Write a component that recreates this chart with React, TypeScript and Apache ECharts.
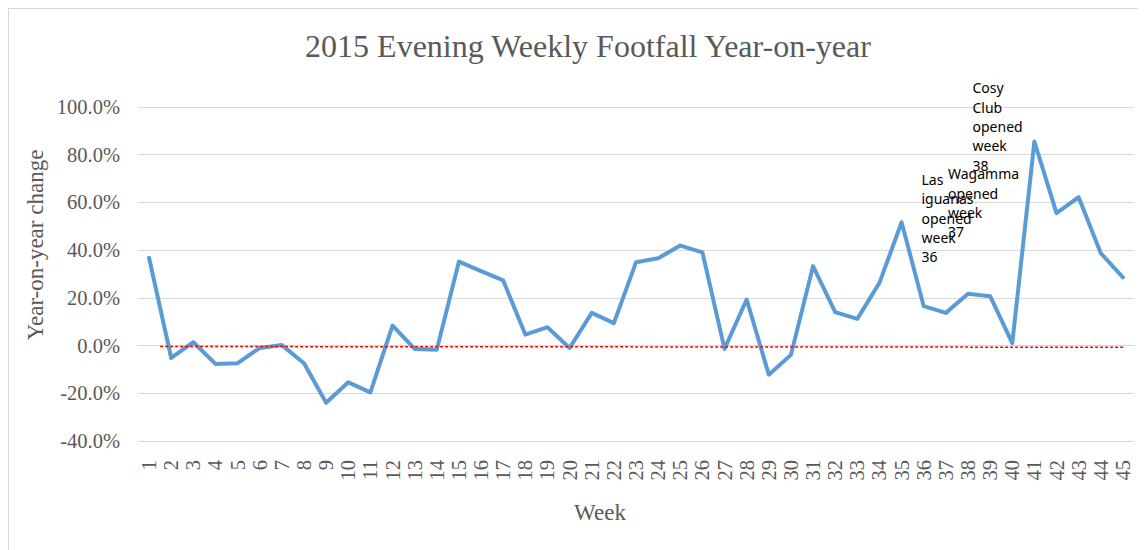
import React, { useEffect, useRef } from "react";
import * as echarts from "echarts";

const weeks: string[] = Array.from({ length: 45 }, (_, i) => String(i + 1));
const yoyChange: number[] = [
  36.8, -5.2, 1.4, -7.7, -7.4, -1.0, 0.2, -7.4, -24.0, -15.4,
  -19.6, 8.4, -1.4, -1.7, 35.2, 31.2, 27.3, 4.6, 7.7, -1.0,
  13.7, 9.4, 34.9, 36.6, 41.9, 39.1, -1.4, 19.3, -12.2, -3.9,
  33.3, 14.0, 11.2, 26.3, 51.7, 16.5, 13.7, 21.7, 20.7, 1.0,
  85.5, 55.5, 62.2, 38.7, 28.6,
];
const trendWeeks: number[] = [1.5, 45.1];
const trendValues: number[] = [-0.4, -0.7];
const yMin = -40;
const yMax = 100;
const yStep = 20;

const annotations = [
  { text: "Las\niguanas\nopened\nweek\n36", x: 912.5, y: 160.5 },
  { text: "Wagamma\nopened\nweek\n37", x: 939, y: 155 },
  { text: "Cosy\nClub\nopened\nweek\n38", x: 963.5, y: 69 },
];

const SERIF = "'Liberation Serif', 'Times New Roman', serif";
const GREY = "#595959";

export default function App() {
  const ref = useRef<HTMLDivElement>(null);
  useEffect(() => {
    if (!ref.current) return;
    const chart = echarts.init(ref.current, undefined, { renderer: "svg" });
    chart.setOption({
      animation: false,
      backgroundColor: "#ffffff",
      title: {
        text: "2015 Evening Weekly Footfall Year-on-year",
        left: 574,
        top: 16,
        textAlign: "center",
        textStyle: { fontFamily: SERIF, fontSize: 32, fontWeight: "normal", color: GREY },
      },
      grid: { left: 129, right: 12, top: 98, bottom: 109, containLabel: false },
      xAxis: [
        {
          type: "category",
          data: weeks,
          boundaryGap: true,
          axisLine: { show: true, lineStyle: { color: "#d9d9d9", width: 1 } },
          axisTick: { show: false },
          axisLabel: {
            rotate: 90,
            margin: 19,
            interval: 0,
            fontFamily: SERIF,
            fontSize: 20.5,
            color: GREY,
          },
        },
        {
          type: "value",
          min: 0.5,
          max: 45.5,
          show: false,
          position: "bottom",
        },
      ],
      yAxis: {
        type: "value",
        min: yMin,
        max: yMax,
        interval: yStep,
        axisLine: { show: false },
        axisTick: { show: false },
        splitLine: { lineStyle: { color: "#d9d9d9", width: 1 } },
        axisLabel: {
          margin: 18,
          fontFamily: SERIF,
          fontSize: 20.5,
          color: GREY,
          formatter: (v: number) => v.toFixed(1) + "%",
        },
      },
      series: [
        {
          name: "Year-on-year change",
          type: "line",
          data: yoyChange,
          symbol: "none",
          lineStyle: { color: "#5b9bd5", width: 4, cap: "round", join: "round" },
          z: 2,
        },
        {
          name: "Trend",
          type: "line",
          xAxisIndex: 1,
          data: trendWeeks.map((w, i) => [w, trendValues[i]]),
          symbol: "none",
          lineStyle: { color: "#ff0000", width: 1.5, type: [3, 2] },
          z: 3,
        },
      ],
      graphic: [
        {
          type: "text",
          x: 591,
          y: 503,
          style: {
            text: "Week",
            fontFamily: SERIF,
            fontSize: 23,
            fill: GREY,
            align: "center",
            verticalAlign: "middle",
          },
        },
        {
          type: "text",
          x: 26,
          y: 236,
          rotation: Math.PI / 2,
          style: {
            text: "Year-on-year change",
            fontFamily: SERIF,
            fontSize: 23,
            fill: GREY,
            align: "center",
            verticalAlign: "middle",
          },
        },
        ...annotations.map((a) => ({
          type: "text",
          x: a.x,
          y: a.y,
          z: 10,
          style: {
            text: a.text,
            fontFamily: "'Noto Sans', 'Open Sans', sans-serif",
            fontSize: 14,
            lineHeight: 19.4,
            fill: "#000000",
            align: "left",
            verticalAlign: "top",
          },
        })),
      ],
    });
    return () => chart.dispose();
  }, []);
  return (
    <div style={{ border: "1px solid #d9d9d9", width: 1145, height: 549, boxSizing: "content-box" }}>
      <div ref={ref} style={{ width: 1137, height: 541 }} />
    </div>
  );
}
